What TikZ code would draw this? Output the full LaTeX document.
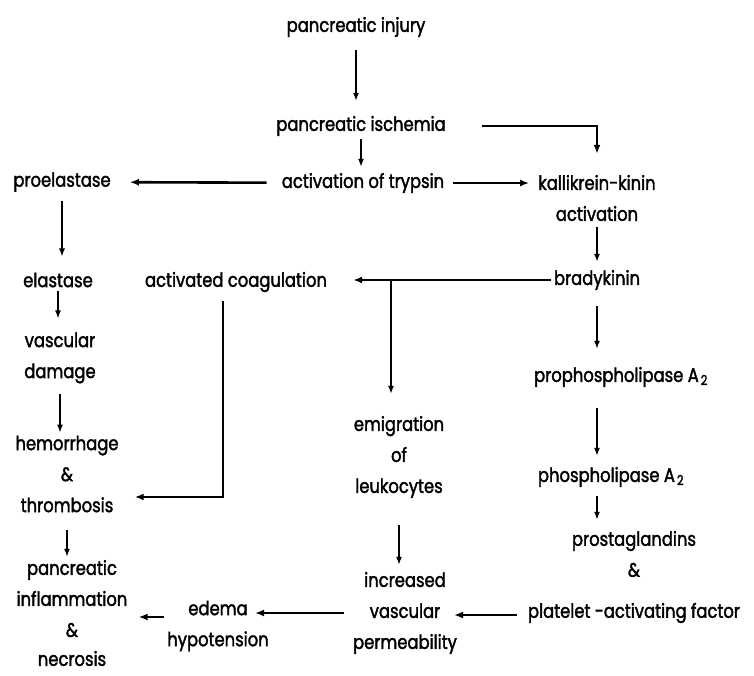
\documentclass[tikz,border=0pt]{standalone}
\usepackage{fontspec}
\setmainfont{Poppins}[FakeStretch=0.84, FakeBold=1.8]
\usetikzlibrary{arrows.meta}
\tikzstyle{chart}=[%
	x = 1pt, y = -1pt,
	every node/.style = {
		font = \fontsize{19.5}{31}\selectfont,
		align = center,
		inner sep = 3pt
	}
]
\tikzstyle{thin arrow}=[-{Latex[length=8pt,width=6pt]}, line width=1.4pt]
\tikzstyle{thick arrow}=[-{Latex[length=9pt,width=7pt]}, line width=2.6pt]

\begin{document}
\begin{tikzpicture}[chart]
	% Background, frame
	\draw[draw=none, fill=white] (0,0) rectangle (754,676);
	\useasboundingbox (0,0) rectangle (754,676);

	% Stages
	\node (injury)      at (356,27)  {pancreatic injury};
	\node (ischemia)    at (361,126) {pancreatic ischemia};
	\node (trypsin)     at (363,183) {activation of trypsin};
	\node (proelastase) at (62,182)  {proelastase};
	\node (kallikrein)  at (597,198) {kallikrein-kinin\\activation};
	\node (bradykinin)  at (597,280) {bradykinin};
	\node (coag)        at (236,282) {activated coagulation};
	\node (elastase)    at (58,280)  {elastase};
	\node (damage)      at (60,358)  {vascular\\damage};
	\node (hem)         at (67,474)  {hemorrhage\\\&\\thrombosis};
	\node (inflam)      at (72,613)  {pancreatic\\inflammation\\\&\\[-2pt]necrosis};
	\node (emig)        at (399,457) {emigration\\of\\leukocytes};
	\node (incr)        at (405,613) {increased\\vascular\\permeability};
	\node (edema)       at (218,626) {edema\\hypotension};
	\node (prophos)     at (621,377) {prophospholipase A\kern2pt\textsubscript{2}};
	\node (phos)        at (611,477) {phospholipase A\kern2pt\textsubscript{2}};
	\node (prosta)      at (634,577) {prostaglandins\\\&\\[10pt]platelet -activating factor};

	% Vertical arrows
	\foreach \a/\b/\s/\t in {injury/ischemia/10/12, ischemia/trypsin/0/3,
			proelastase/elastase/6/13, elastase/damage/0/11, damage/hem/7/0,
			hem/inflam/14/0, kallikrein/bradykinin/3/5, bradykinin/prophos/13/15} {
		\draw[thin arrow, shorten <=\s pt, shorten >=\t pt] (\a) -- (\a |- \b.north);
	}
	\draw[thin arrow, shorten <=18pt, shorten >=8pt] (bradykinin |- prophos.south) -- (bradykinin |- phos.north);
	\draw[thin arrow, shorten <=6pt, shorten >=8pt] (bradykinin |- phos.south) -- (bradykinin |- prosta.north);
	\draw[thin arrow, shorten <=24pt, shorten >=4pt] (emig) -- (emig |- incr.north);

	% Horizontal arrows
	\draw[thick arrow, shorten <=12pt, shorten >=16pt] (trypsin) -- (proelastase);
	\draw[thick arrow, shorten <=6pt, shorten >=6pt] (trypsin) -- (trypsin -| kallikrein.west);
	\draw[thick arrow, line width=2pt, shorten <=33pt, shorten >=18pt] (ischemia) -| (kallikrein);
	\draw[thick arrow, shorten >=23pt] (bradykinin) -- (bradykinin -| coag.east);
	\coordinate (fork) at ([xshift=-8pt]emig.north |- bradykinin);
	\draw[thin arrow, line width=1.8pt, shorten >=19pt] (fork) -- (fork |- emig.north);
	\draw[thick arrow, line width=2pt, shorten <=6pt, shorten >=13pt] ([xshift=-13pt]coag.south) |- ([yshift=-23pt]hem.east);
	\draw[thick arrow, shorten <=8pt, shorten >=49pt] ([yshift=-38pt]prosta.west) -- ([yshift=-38pt]prosta.west -| incr);
	\draw[thick arrow, shorten <=6pt, shorten >=37pt] (incr) -- (incr -| edema);
	\draw[thick arrow, shorten >=8pt] ([yshift=9pt]edema.west) -- ([yshift=9pt]edema.west -| inflam.east);

\end{tikzpicture}
\end{document}
